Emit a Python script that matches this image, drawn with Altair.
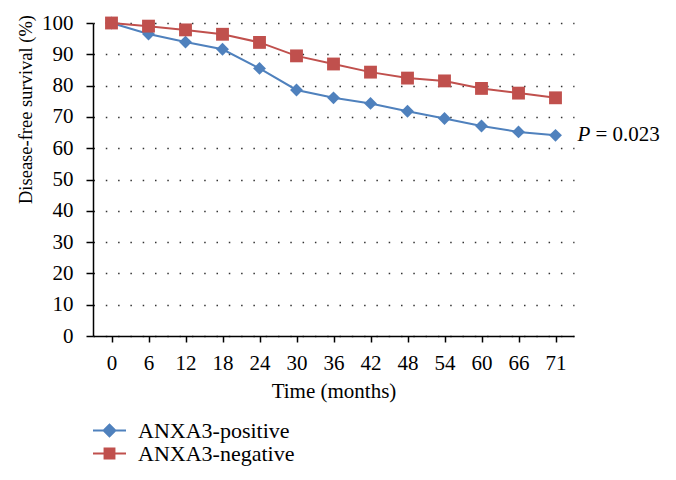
import altair as alt
import pandas as pd

months = ["0", "6", "12", "18", "24", "30", "36", "42", "48", "54", "60", "66", "71"]
positive = [100, 96.5, 93.9, 91.6, 85.5, 78.6, 76.1, 74.3, 71.8, 69.5, 67.1, 65.2, 64.1]
negative = [100, 99.0, 97.8, 96.4, 93.8, 89.5, 86.9, 84.3, 82.4, 81.5, 79.1, 77.6, 76.1]
series = ["ANXA3-positive", "ANXA3-negative"]
colors = ["#4F81BD", "#C0504D"]
shapes = ["diamond", "square"]
legend_shapes = [
    "M-1,-0.055H1V0.055H-1Z M0,-0.44L0.44,0L0,0.44L-0.44,0Z",
    "M-1,-0.055H1V0.055H-1Z M-0.36,-0.36H0.36V0.36H-0.36Z",
]
legend_rows_y = [391, 414]
y_ticks = list(range(0, 101, 10))
p_label = "P"
p_value = "= 0.023"

rows = []
for i, m in enumerate(months):
    rows.append({"month": m, "idx": i, "survival": positive[i], "series": series[0]})
    rows.append({"month": m, "idx": i, "survival": negative[i], "series": series[1]})
df = pd.DataFrame(rows)

FONT = "Liberation Serif"

x_enc = alt.X(
    "month:N",
    sort=months,
    scale=alt.Scale(type="point", padding=0.5),
    axis=alt.Axis(
        title="Time (months)",
        labelAngle=0,
        grid=False,
        tickSize=6,
        labelPadding=10,
        labelFontSize=21,
        titleFontSize=21,
        titleY=55,
        titleBaseline="middle",
    ),
)
y_enc = alt.Y(
    "survival:Q",
    scale=alt.Scale(domain=[0, 100], nice=False),
    axis=alt.Axis(
        title="Disease-free survival (%)",
        values=y_ticks,
        tickCount=20,
        labelOverlap=False,
        grid=True,
        gridDash=[1.5, 10.8],
        gridColor="#333333",
        gridWidth=1.3,
        tickSize=7,
        labelPadding=13,
        labelFontSize=21,
        titleFontSize=18.5,
        titleAngle=270,
        titleX=-68,
        titleY=86,
        titleAlign="center",
        titleBaseline="middle",
    ),
)

color_scale = alt.Scale(domain=series, range=colors)

base = alt.Chart(df).encode(x=x_enc, y=y_enc, order=alt.Order("idx:Q"))

lines = base.mark_line(strokeWidth=2).encode(
    color=alt.Color("series:N", scale=color_scale, legend=None)
)

points = base.mark_point(filled=True, opacity=1, size=165).encode(
    color=alt.Color("series:N", scale=color_scale, legend=None),
    shape=alt.Shape("series:N", scale=alt.Scale(domain=series, range=shapes), legend=None),
)

legend_layers = []
for i, s in enumerate(series):
    lay = (
        base.mark_point(filled=True, opacity=1, size=0, color=colors[i])
        .encode(
            shape=alt.Shape(
                "series:N",
                scale=alt.Scale(domain=[s], range=[legend_shapes[i]]),
                legend=alt.Legend(
                    title=None,
                    orient="none",
                    legendX=0,
                    legendY=legend_rows_y[i],
                    direction="vertical",
                    labelFont=FONT,
                    labelFontSize=22,
                    labelColor="black",
                    symbolSize=1089,
                    symbolStrokeWidth=0,
                    symbolOpacity=1,
                    symbolFillColor=colors[i],
                    labelOffset=12,
                    padding=0,
                ),
            )
        )
        .transform_filter(alt.datum.series == s)
    )
    legend_layers.append(lay)

ann_df = pd.DataFrame({"month": [months[-1]], "survival": [positive[-1]], "p": [p_label], "v": [p_value]})
ann_base = alt.Chart(ann_df).encode(x=x_enc, y=y_enc)
ann_p = ann_base.mark_text(
    align="left", baseline="middle", dx=22, font=FONT, fontSize=21, fontStyle="italic", color="black"
).encode(text="p:N")
ann_v = ann_base.mark_text(
    align="left", baseline="middle", dx=40, font=FONT, fontSize=21, color="black"
).encode(text="v:N")

chart = (
    alt.layer(lines, points, *legend_layers, ann_p, ann_v)
    .resolve_scale(shape="independent")
    .properties(
        width=481,
        height=313,
        autosize=alt.AutoSizeParams(type="none"),
        padding={"left": 85, "top": 15, "right": 90, "bottom": 135},
    )
    .configure_view(stroke=None)
    .configure_axis(
        domainColor="black",
        domainWidth=1.5,
        tickColor="black",
        tickWidth=1.5,
        labelFont=FONT,
        labelColor="black",
        titleFont=FONT,
        titleFontWeight="normal",
        titleColor="black",
    )
)

chart.save("out.html", embed_options={"renderer": "svg", "actions": False})
